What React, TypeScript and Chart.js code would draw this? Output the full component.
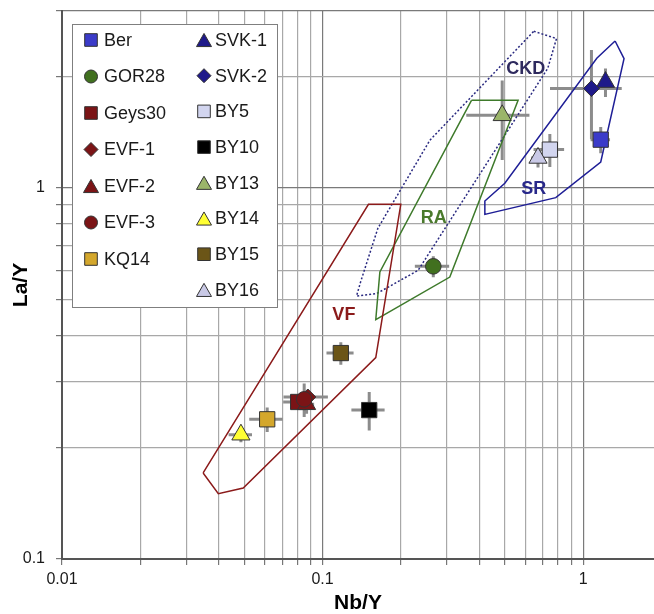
import React, { useEffect, useRef } from 'react';
import { Chart, registerables } from 'chart.js';

Chart.register(...registerables);

const FONT = '"Liberation Sans", Arial, Helvetica, sans-serif';

// ---- sample data (Nb/Y vs La/Y) ----
const seriesNames = ['Ber', 'GOR28', 'Geys30', 'EVF-1', 'EVF-2', 'EVF-3', 'KQ14', 'SVK-1', 'SVK-2', 'BY5', 'BY10', 'BY13', 'BY14', 'BY15', 'BY16'];
const nbY = [1.168, 0.266, 0.0806, 0.0878, 0.0868, 0.085, 0.0613, 1.218, 1.076, 0.745, 0.151, 0.489, 0.0486, 0.1175, 0.671];
const laY = [1.35, 0.615, 0.265, 0.2733, 0.2612, 0.2694, 0.238, 1.93, 1.854, 1.269, 0.252, 1.57, 0.2163, 0.359, 1.205];
const nbYErr = [0.1, 0.04, 0.01, 0.017, 0.006, 0.006, 0.009, 0.05, 0.33, 0.1, 0.022, 0.133, 0.005, 0.014, 0.04];
const laYErr = [0.11, 0.04, 0.01, 0.01, 0.015, 0.028, 0.018, 0.17, 0.5, 0.13, 0.03, 0.38, 0.01, 0.025, 0.07];

// ---- styles ----
const seriesStyles = ['rect', 'circle', 'rect', 'rectRot', 'triangle', 'circle', 'rect', 'triangle', 'rectRot', 'rect', 'rect', 'triangle', 'triangle', 'rect', 'triangle'];
const seriesColors = ['#3b3bc9', '#41701f', '#7b1416', '#7b1416', '#7b1416', '#7b1416', '#d4a72c', '#1f1a8a', '#1f1a8a', '#d2d5ef', '#000000', '#9bb56a', '#ffff33', '#6b5517', '#c9c9e6'];
const styleRadius: Record<string, number> = { rect: 10.8, circle: 7.8, triangle: 10.5, rectRot: 8 };

// ---- field polygons ----
const vfNb = [0.0348, 0.0398, 0.0496, 0.16, 0.1996, 0.15, 0.0348];
const vfLa = [0.1706, 0.15, 0.1554, 0.349, 0.904, 0.904, 0.1706];
const raNb = [0.3728, 0.5627, 0.3078, 0.16, 0.1659, 0.3728];
const raLa = [1.723, 1.723, 0.5755, 0.4418, 0.5937, 1.723];
const ckdNb = [0.6465, 0.79, 0.7313, 0.2326, 0.1611, 0.135, 0.1399, 0.163, 0.258, 0.6465];
const ckdLa = [2.645, 2.528, 2.102, 0.6, 0.519, 0.5116, 0.558, 0.779, 1.345, 2.645];
const srNb = [1.326, 1.435, 1.168, 0.785, 0.4195, 0.4195, 0.5004, 1.128, 1.326];
const srLa = [2.49, 2.233, 1.175, 0.942, 0.849, 0.9225, 1.03, 2.237, 2.49];

const fieldNames = ['CKD', 'SR', 'RA', 'VF'];
const fieldLabelNb = [0.602, 0.646, 0.267, 0.1207];
const fieldLabelLa = [2.09, 0.992, 0.829, 0.454];
const fieldColors = ['#2e2a5e', '#28288a', '#4a7a2c', '#8b1a1a'];

// ---- axes ----
const xTicks = [0.01, 0.02, 0.03, 0.04, 0.05, 0.06, 0.07, 0.08, 0.09, 0.1, 0.2, 0.3, 0.4, 0.5, 0.6, 0.7, 0.8, 0.9, 1];
const yTicks = [0.1, 0.2, 0.3, 0.4, 0.5, 0.6, 0.7, 0.8, 0.9, 1, 2, 3];
const xTickLabels: Record<string, string> = { '0.01': '0.01', '0.1': '0.1', '1': '1' };
const yTickLabels: Record<string, string> = { '0.1': '0.1', '1': '1' };
const majorLines = [0.01, 0.1, 1, 3];

function drawShape(ctx: CanvasRenderingContext2D, style: string, x: number, y: number, r: number, fill: string, stroke: string) {
  ctx.beginPath();
  if (style === 'rect') {
    ctx.rect(x - r, y - r, 2 * r, 2 * r);
  } else if (style === 'circle') {
    ctx.arc(x, y, r, 0, Math.PI * 2);
  } else if (style === 'triangle') {
    const h = r * 1.75;
    ctx.moveTo(x, y - h / 2);
    ctx.lineTo(x + r, y + h / 2);
    ctx.lineTo(x - r, y + h / 2);
    ctx.closePath();
  } else {
    ctx.moveTo(x, y - r);
    ctx.lineTo(x + r, y);
    ctx.lineTo(x, y + r);
    ctx.lineTo(x - r, y);
    ctx.closePath();
  }
  ctx.fillStyle = fill;
  ctx.fill();
  ctx.lineWidth = 1;
  ctx.strokeStyle = stroke;
  ctx.stroke();
}

const errorBarPlugin = {
  id: 'errorBars',
  beforeDatasetsDraw(chart: any) {
    const { ctx, chartArea, scales } = chart;
    const xs = scales.x;
    const ys = scales.y;
    ctx.save();
    ctx.beginPath();
    ctx.rect(chartArea.left, chartArea.top, chartArea.right - chartArea.left, chartArea.bottom - chartArea.top);
    ctx.clip();
    ctx.strokeStyle = '#8c8c8c';
    ctx.lineWidth = 3;
    for (let i = 0; i < seriesNames.length; i++) {
      const px = xs.getPixelForValue(nbY[i]);
      const py = ys.getPixelForValue(laY[i]);
      const x1 = xs.getPixelForValue(nbY[i] - nbYErr[i]);
      const x2 = xs.getPixelForValue(nbY[i] + nbYErr[i]);
      const y1 = ys.getPixelForValue(laY[i] - laYErr[i]);
      const y2 = ys.getPixelForValue(laY[i] + laYErr[i]);
      ctx.beginPath();
      ctx.moveTo(x1, py);
      ctx.lineTo(x2, py);
      ctx.moveTo(px, y1);
      ctx.lineTo(px, y2);
      ctx.stroke();
    }
    ctx.restore();
  },
};

const fieldLabelPlugin = {
  id: 'fieldLabels',
  afterDatasetsDraw(chart: any) {
    const { ctx, scales } = chart;
    ctx.save();
    ctx.font = `bold 18px ${FONT}`;
    ctx.textAlign = 'center';
    ctx.textBaseline = 'middle';
    for (let i = 0; i < fieldNames.length; i++) {
      ctx.fillStyle = fieldColors[i];
      ctx.fillText(fieldNames[i], scales.x.getPixelForValue(fieldLabelNb[i]), scales.y.getPixelForValue(fieldLabelLa[i]));
    }
    ctx.restore();
  },
};

const legendPlugin = {
  id: 'boxLegend',
  afterDraw(chart: any) {
    const { ctx } = chart;
    ctx.save();
    ctx.fillStyle = '#ffffff';
    ctx.fillRect(72, 24, 205, 283);
    ctx.strokeStyle = '#7f7f7f';
    ctx.lineWidth = 1;
    ctx.strokeRect(72.5, 24.5, 205, 283);
    ctx.font = `18px ${FONT}`;
    ctx.textBaseline = 'middle';
    ctx.textAlign = 'left';
    const legendR: Record<string, number> = { rect: 6.3, circle: 6.5, triangle: 7.5, rectRot: 7 };
    for (let i = 0; i < seriesNames.length; i++) {
      const col2 = i >= 7;
      const row = col2 ? i - 7 : i;
      const mx = col2 ? 204 : 91;
      const tx = col2 ? 215 : 104;
      const y = col2 ? 40 + row * 35.7 : 40 + row * 36.5;
      const st = seriesStyles[i];
      drawShape(ctx, st, mx, y, legendR[st], seriesColors[i], '#333333');
      ctx.fillStyle = '#1a1a1a';
      ctx.fillText(seriesNames[i], tx, y + 1);
    }
    ctx.restore();
  },
};

function polygon(label: string, xs: number[], ys: number[], color: string, dash: number[]) {
  return {
    label,
    data: xs.map((x, i) => ({ x, y: ys[i] })),
    showLine: true,
    fill: false,
    borderColor: color,
    borderWidth: 1.5,
    borderDash: dash,
    pointRadius: 0,
    pointHoverRadius: 0,
    tension: 0,
    order: 100,
  };
}

export default function App() {
  const ref = useRef<HTMLCanvasElement>(null);

  useEffect(() => {
    if (!ref.current) return;
    const markerSets = seriesNames.map((name, i) => ({
      label: name,
      data: [{ x: nbY[i], y: laY[i] }],
      pointStyle: seriesStyles[i],
      pointRadius: styleRadius[seriesStyles[i]],
      pointHoverRadius: styleRadius[seriesStyles[i]],
      backgroundColor: seriesColors[i],
      borderColor: '#333333',
      borderWidth: 1,
      showLine: false,
      order: -i,
    }));
    const polys = [
      polygon('VF', vfNb, vfLa, '#8b1a1a', []),
      polygon('RA', raNb, raLa, '#3e7a2b', []),
      polygon('CKD', ckdNb, ckdLa, '#2a2a80', [2, 2]),
      polygon('SR', srNb, srLa, '#1e1e96', []),
    ];
    const isMajor = (v: number) => majorLines.some((m) => Math.abs(m - v) < 1e-9);
    const chart = new Chart(ref.current, {
      type: 'scatter',
      data: { datasets: [...polys, ...markerSets] as any },
      options: {
        animation: false,
        responsive: false,
        maintainAspectRatio: false,
        layout: { autoPadding: false, padding: { top: 11, right: 0, left: 0, bottom: 0 } },
        plugins: { legend: { display: false }, tooltip: { enabled: false } },
        scales: {
          x: {
            type: 'logarithmic',
            min: 0.01,
            max: 1.87,
            afterBuildTicks: (s: any) => {
              s.ticks = xTicks.map((v) => ({ value: v }));
            },
            afterFit: (s: any) => {
              s.height = 55;
              s.paddingLeft = 0;
              s.paddingRight = 0;
              s.paddingTop = 0;
              s.paddingBottom = 0;
            },
            ticks: {
              autoSkip: false,
              maxRotation: 0,
              padding: 5,
              color: '#1a1a1a',
              font: { family: FONT, size: 16 },
              callback: (v: any) => xTickLabels[String(v)] ?? '',
            },
            grid: {
              color: (c: any) => (isMajor(c.tick?.value) ? '#7a7a7a' : '#a8a8a8'),
              lineWidth: 1.2,
              tickLength: 6,
              tickColor: '#777777',
            },
            border: { color: '#555555', width: 2 },
            title: {
              display: true,
              text: 'Nb/Y',
              color: '#000000',
              font: { family: FONT, size: 21, weight: 'bold', lineHeight: 1 },
              padding: { top: 0, bottom: 0 },
            },
          },
          y: {
            type: 'logarithmic',
            min: 0.1,
            max: 3,
            afterBuildTicks: (s: any) => {
              s.ticks = yTicks.map((v) => ({ value: v }));
            },
            afterFit: (s: any) => {
              s.width = 62;
              s.paddingLeft = 0;
              s.paddingRight = 0;
              s.paddingTop = 0;
              s.paddingBottom = 0;
            },
            ticks: {
              autoSkip: false,
              padding: 11,
              color: '#1a1a1a',
              font: { family: FONT, size: 16 },
              callback: (v: any) => yTickLabels[String(v)] ?? '',
            },
            grid: {
              color: (c: any) => (isMajor(c.tick?.value) ? '#7a7a7a' : '#a8a8a8'),
              lineWidth: 1.2,
              tickLength: 6,
              tickColor: '#777777',
            },
            border: { color: '#555555', width: 2 },
            title: {
              display: true,
              text: 'La/Y',
              color: '#000000',
              font: { family: FONT, size: 21, weight: 'bold', lineHeight: 1.2 },
              padding: { top: 9, bottom: 0 },
            },
          },
        },
      } as any,
      plugins: [errorBarPlugin, fieldLabelPlugin, legendPlugin],
    });
    return () => chart.destroy();
  }, []);

  return (
    <div style={{ position: 'absolute', left: 0, top: 0, width: 654, height: 614, background: '#ffffff', overflow: 'hidden' }}>
      <canvas ref={ref} width={654} height={614} style={{ display: 'block', width: 654, height: 614 }} />
    </div>
  );
}
